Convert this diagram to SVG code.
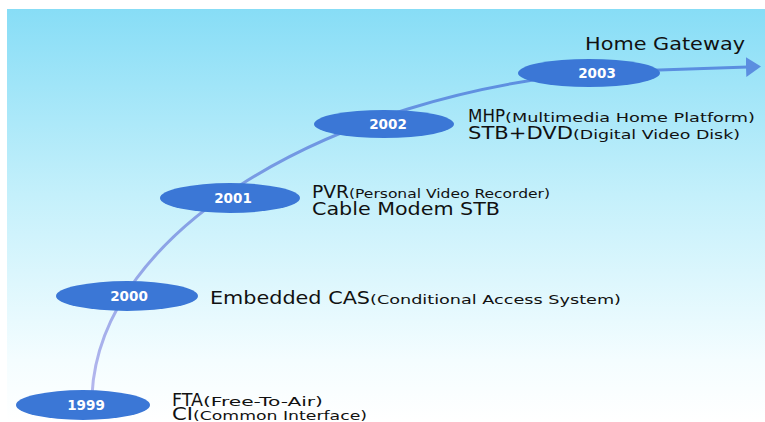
<svg xmlns="http://www.w3.org/2000/svg" width="765" height="422" viewBox="0 0 765 422">
<defs>
<linearGradient id="bg" x1="0" y1="0" x2="0" y2="1">
<stop offset="0" stop-color="#87ddf6"/>
<stop offset="0.45" stop-color="#c4f0fb"/>
<stop offset="0.85" stop-color="#f4fdff"/>
<stop offset="1" stop-color="#ffffff"/>
</linearGradient>
<linearGradient id="ln" gradientUnits="userSpaceOnUse" x1="0" y1="400" x2="0" y2="70">
<stop offset="0" stop-color="#b8b8ee"/>
<stop offset="0.5" stop-color="#8aa2e6"/>
<stop offset="1" stop-color="#5a8ee0"/>
</linearGradient>
<marker id="ah" markerUnits="userSpaceOnUse" markerWidth="16" markerHeight="22" refX="2" refY="11" orient="auto">
<path d="M0,1 L15,11 L0,21 Z" fill="#5b8ee0"/>
</marker>
<style>
.n ellipse{fill:#3b77d6}
.yr{font-family:"DejaVu Sans",Verdana,sans-serif;font-size:13.5px;font-weight:bold;fill:#ffffff;text-anchor:middle}
.big{font-family:"DejaVu Sans",Verdana,sans-serif;font-size:17px;fill:#111111}
.sm{font-family:"DejaVu Sans",Verdana,sans-serif;font-size:13px;fill:#111111}
</style>
</defs>
<rect x="0" y="0" width="765" height="422" fill="#ffffff"/>
<rect x="7" y="9" width="758" height="413" fill="url(#bg)"/>
<g id="connectors">
<path d="M92,395 C100,230 330,95 600,72 L748,67" fill="none" stroke="url(#ln)" stroke-width="3" marker-end="url(#ah)"/>
</g>
<g id="n1999" class="n">
<ellipse cx="83" cy="405" rx="67" ry="15"/>
<text class="yr" x="86" y="410">1999</text>
<text class="big" x="172" y="406" textLength="31" lengthAdjust="spacingAndGlyphs">FTA</text>
<text class="sm" x="203" y="406" textLength="120" lengthAdjust="spacingAndGlyphs">(Free-To-Air)</text>
<text class="big" x="172" y="420" textLength="21" lengthAdjust="spacingAndGlyphs">CI</text>
<text class="sm" x="193" y="420" textLength="174" lengthAdjust="spacingAndGlyphs">(Common Interface)</text>
</g>
<g id="n2000" class="n">
<ellipse cx="127" cy="296" rx="71" ry="15"/>
<text class="yr" x="129" y="301">2000</text>
<text class="big" x="210" y="304" textLength="160" lengthAdjust="spacingAndGlyphs">Embedded CAS</text>
<text class="sm" x="370" y="304" textLength="251" lengthAdjust="spacingAndGlyphs">(Conditional Access System)</text>
</g>
<g id="n2001" class="n">
<ellipse cx="230" cy="198" rx="70" ry="15"/>
<text class="yr" x="233" y="203">2001</text>
<text class="big" x="312" y="198" textLength="37" lengthAdjust="spacingAndGlyphs">PVR</text>
<text class="sm" x="349" y="198" textLength="201" lengthAdjust="spacingAndGlyphs">(Personal Video Recorder)</text>
<text class="big" x="312" y="215" textLength="188" lengthAdjust="spacingAndGlyphs">Cable Modem STB</text>
</g>
<g id="n2002" class="n">
<ellipse cx="384" cy="124" rx="70" ry="14"/>
<text class="yr" x="388" y="129">2002</text>
<text class="big" x="468" y="122" textLength="37" lengthAdjust="spacingAndGlyphs">MHP</text>
<text class="sm" x="505" y="122" textLength="250" lengthAdjust="spacingAndGlyphs">(Multimedia Home Platform)</text>
<text class="big" x="468" y="139" textLength="105" lengthAdjust="spacingAndGlyphs">STB+DVD</text>
<text class="sm" x="573" y="139" textLength="167" lengthAdjust="spacingAndGlyphs">(Digital Video Disk)</text>
</g>
<g id="n2003" class="n">
<ellipse cx="589" cy="73" rx="71" ry="14"/>
<text class="yr" x="597" y="78">2003</text>
</g>
<g id="nHome">
<text class="big" x="585" y="50" textLength="160" lengthAdjust="spacingAndGlyphs">Home Gateway</text>
</g>
</svg>
